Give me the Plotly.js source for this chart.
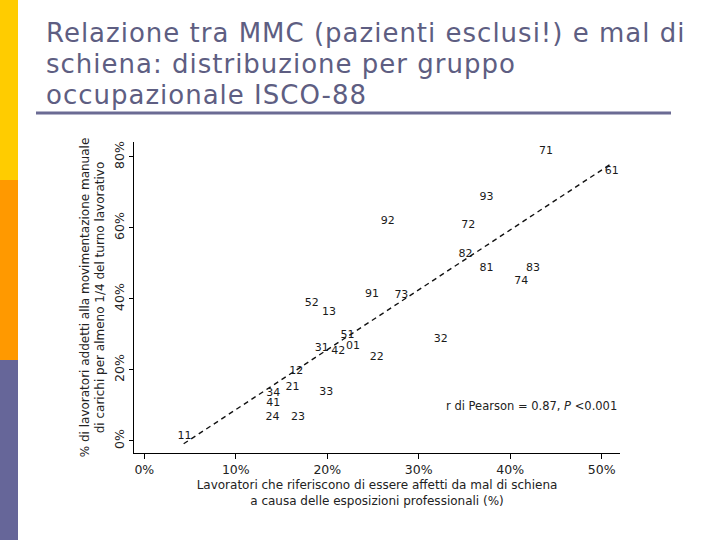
<!DOCTYPE html>
<html>
<head>
<meta charset="utf-8">
<script src="https://cdn.plot.ly/plotly-3.0.1.min.js"></script>
<style>
html,body{margin:0;padding:0;background:#fff;}
#chart{width:720px;height:540px;}
</style>
</head>
<body>
<div id="chart"></div>
<script>
// ISCO-88 occupational group codes
const groups = ["71","61","93","92","72","82","81","83","74","91","73","52","13","51","01","31","42","22","32","12","21","33","34","41","24","23","11"];
// % workers reporting back pain due to occupational exposure
const backPain = [43.9,51.1,37.4,26.6,35.4,35.1,37.4,42.5,41.2,24.9,28.1,18.3,20.2,22.2,22.8,19.4,21.2,25.4,32.4,16.6,16.2,19.9,14.1,14.1,14.0,16.8,4.4];
// % workers handling loads for at least 1/4 of the shift
const manualHandling = [81.5,75.9,68.5,62.0,60.8,52.6,48.7,48.7,45.1,41.2,41.0,38.9,36.2,29.8,26.8,26.2,25.2,23.6,28.6,19.7,15.1,13.8,13.5,10.7,6.8,6.8,1.4];
// regression line end points
const fitX = [4.3, 51.0];
const fitY = [-0.8, 78.0];
const xTickVals = [0,10,20,30,40,50];
const xTickText = ["0%","10%","20%","30%","40%","50%"];
const yTickVals = [0,20,40,60,80];
const yTickText = ["0%","20%","40%","60%","80%"];
const titleLines = ["Relazione tra MMC (pazienti esclusi!) e mal di", "schiena: distribuzione per gruppo", "occupazionale ISCO-88"];

const L = 134, R = 620, T = 142, B = 453;
const W = R - L, H = B - T;
const px = v => (v - L) / W;
const py = v => (B - v) / H;

const traces = [
  {
    x: fitX, y: fitY, mode: "lines", type: "scatter",
    line: {color: "#111", width: 1.4, dash: "5px,4px"},
    hoverinfo: "skip", showlegend: false
  },
  {
    x: backPain, y: manualHandling, text: groups, mode: "text", type: "scatter",
    textposition: "middle center",
    textfont: {family: "DejaVu Sans", size: 11, color: "#1a1a1a"},
    showlegend: false
  }
];

const titleAnn = titleLines.map((t, i) => ({
  x: px(44), y: py(33 + 31 * i), xref: "paper", yref: "paper",
  xanchor: "left", yanchor: "middle", align: "left",
  text: t, showarrow: false,
  font: {family: "DejaVu Sans", size: 26, color: "#5e5e82"}
}));

const layout = {
  width: 720, height: 540,
  margin: {l: L, r: 720 - R, t: T, b: 540 - B},
  paper_bgcolor: "#fff", plot_bgcolor: "#fff",
  showlegend: false,
  xaxis: {
    range: [-1.13, 52.0], showgrid: false, zeroline: false,
    showline: true, linecolor: "#000", linewidth: 1,
    ticks: "outside", ticklen: 5, tickcolor: "#000",
    tickvals: xTickVals, ticktext: xTickText,
    tickfont: {family: "DejaVu Sans", size: 12.5, color: "#222"},
    title: {
      text: "Lavoratori che riferiscono di essere affetti da mal di schiena<br>a causa delle esposizioni professionali (%)",
      font: {family: "DejaVu Sans", size: 12, color: "#222"}, standoff: 4
    }
  },
  yaxis: {
    range: [-3.4, 84.2], showgrid: false, zeroline: false,
    showline: true, linecolor: "#000", linewidth: 1,
    ticks: "outside", ticklen: 4, tickcolor: "#000",
    tickvals: yTickVals, ticktext: yTickText, tickangle: -90,
    tickfont: {family: "DejaVu Sans", size: 12.5, color: "#222"},
    title: {
      text: "% di lavoratori addetti alla movimentazione manuale<br>di carichi per almeno 1/4 del turno lavorativo",
      font: {family: "DejaVu Sans", size: 12, color: "#222"}, standoff: 4
    }
  },
  annotations: [
    {
      x: 51.9, y: 9.7, xref: "x", yref: "y", xanchor: "right", yanchor: "middle",
      text: "r di Pearson = 0.87, <i>P</i> <0.001", showarrow: false,
      font: {family: "DejaVu Sans", size: 11.5, color: "#222"}
    }
  ].concat(titleAnn),
  shapes: [
    {type: "rect", xref: "paper", yref: "paper", x0: px(0), x1: px(18), y0: py(0), y1: py(180), fillcolor: "#FFCC00", line: {width: 0}, layer: "below"},
    {type: "rect", xref: "paper", yref: "paper", x0: px(0), x1: px(18), y0: py(180), y1: py(360), fillcolor: "#FF9900", line: {width: 0}, layer: "below"},
    {type: "rect", xref: "paper", yref: "paper", x0: px(0), x1: px(18), y0: py(360), y1: py(540), fillcolor: "#666699", line: {width: 0}, layer: "below"},
    {type: "line", xref: "paper", yref: "paper", x0: px(36), x1: px(671), y0: py(113), y1: py(113), line: {color: "#6b6b94", width: 3}}
  ]
};

Plotly.newPlot("chart", traces, layout, {displayModeBar: false, staticPlot: true}).then(gd => {
  gd.querySelectorAll(".annotation-text").forEach(el => {
    if (titleLines.indexOf(el.textContent) >= 0) el.style.letterSpacing = "1px";
  });
});
</script>
</body>
</html>
